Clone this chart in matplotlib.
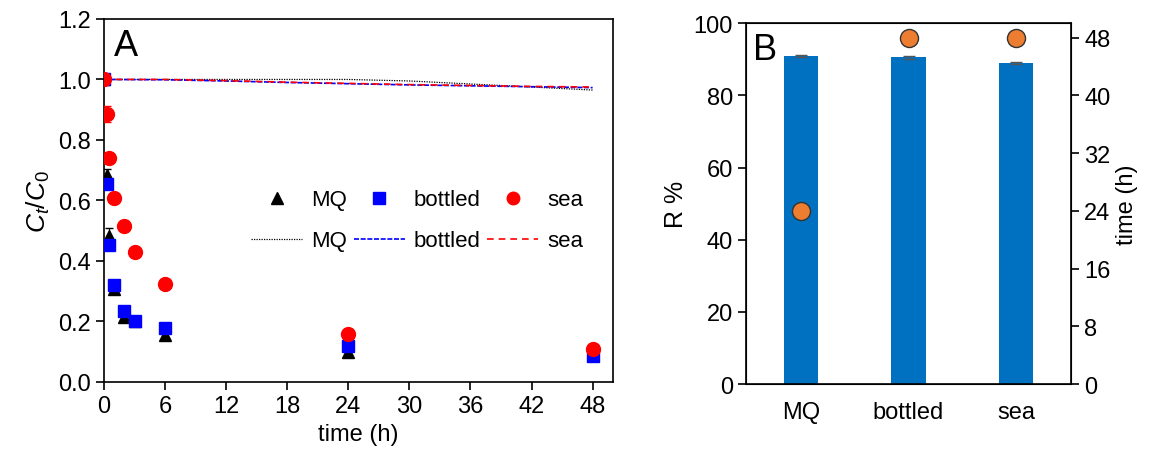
import matplotlib
matplotlib.use("Agg")
import matplotlib.pyplot as plt
from matplotlib.lines import Line2D
import numpy as np

plt.rcParams['font.family'] = ['Liberation Sans', 'DejaVu Sans']
plt.rcParams['mathtext.fontset'] = 'custom'
plt.rcParams['mathtext.it'] = 'Liberation Sans:italic'
plt.rcParams['mathtext.rm'] = 'Liberation Sans'

# panel A: puntos medidos
t = [0, 0.25, 0.5, 1, 2, 3, 6, 24, 48]
mq = [1.0, 0.683, 0.484, 0.307, 0.215, 0.200, 0.155, 0.100, 0.088]
mq_err = [0.0, 0.02, 0.025, 0.01, 0.01, 0.01, 0.01, 0.01, 0.005]
bottled = [1.0, 0.653, 0.454, 0.322, 0.235, 0.202, 0.180, 0.120, 0.086]
bottled_err = [0.0, 0.01, 0.01, 0.01, 0.01, 0.01, 0.01, 0.01, 0.005]
sea = [1.0, 0.886, 0.741, 0.607, 0.517, 0.431, 0.324, 0.157, 0.110]
sea_err = [0.0, 0.026, 0.01, 0.01, 0.01, 0.01, 0.01, 0.01, 0.005]

# panel A: controles (lineas)
t_ctrl = [0, 6, 12, 18, 24, 30, 36, 42, 48]
mq_ctrl = [1.0, 1.0, 1.0, 1.0, 1.0, 0.995, 0.985, 0.975, 0.965]
bottled_ctrl = [1.0, 0.999, 0.995, 0.990, 0.986, 0.982, 0.979, 0.976, 0.973]
sea_ctrl = [1.0, 1.0, 0.996, 0.991, 0.987, 0.983, 0.980, 0.977, 0.975]

# panel B
categorias = ["MQ", "bottled", "sea"]
R = [90.9, 90.5, 88.9]
R_err = [0.3, 0.3, 0.3]
tiempo = [24, 48, 48]

fs = 17
fig = plt.figure(figsize=(11.61, 4.64), dpi=100)

axA = fig.add_axes([0.0896, 0.1746, 0.4384, 0.7824])
l_mq, = axA.plot(t_ctrl, mq_ctrl, color="black", linestyle=(0, (1, 1)), linewidth=0.9)
l_bo, = axA.plot(t_ctrl, bottled_ctrl, color="blue", linestyle=(0, (3, 1)), linewidth=1.2)
l_se, = axA.plot(t_ctrl, sea_ctrl, color="red", linestyle=(0, (4, 3)), linewidth=1.2)
axA.errorbar(t, mq, yerr=mq_err, fmt="^", color="black", markersize=8, capsize=3, elinewidth=0.8, zorder=3)
axA.errorbar(t, bottled, yerr=bottled_err, fmt="s", color="blue", markersize=8, capsize=3, elinewidth=0.8, zorder=4)
axA.errorbar(t, sea, yerr=sea_err, fmt="o", color="red", markersize=10, capsize=3, elinewidth=0.8, zorder=5)
# handles de la leyenda (solo marcador)
m_mq = Line2D([], [], marker="^", color="black", linestyle="none", markersize=8)
m_bo = Line2D([], [], marker="s", color="blue", linestyle="none", markersize=8)
m_se = Line2D([], [], marker="o", color="red", linestyle="none", markersize=9)
handles = [m_mq, l_mq, m_bo, l_bo, m_se, l_se]
labels = ["MQ", "MQ", "bottled", "bottled", "sea", "sea"]
axA.legend(handles, labels, ncol=3, frameon=False, fontsize=fs - 1,
           loc="center left", bbox_to_anchor=(0.25, 0.445), handlelength=2.3,
           columnspacing=0.3, handletextpad=0.4, labelspacing=0.9)
axA.set_xlim(0, 50)
axA.set_ylim(0, 1.2)
axA.set_xticks(np.arange(0, 49, 6))
axA.set_yticks(np.arange(0, 1.21, 0.2))
axA.set_yticklabels([f"{v:.1f}" for v in np.arange(0, 1.21, 0.2)])
axA.tick_params(labelsize=fs, direction="out", length=6, width=1.2)
for s in axA.spines.values():
    s.set_linewidth(1.2)
axA.set_xlabel("time (h)", fontsize=fs)
axA.set_ylabel("$C_t/C_0$", fontsize=fs + 2)
axA.text(0.02, 0.975, "A", transform=axA.transAxes, fontsize=26, va="top", ha="left")

axB = fig.add_axes([0.6426, 0.170, 0.2799, 0.778])
x = np.arange(len(categorias))
axB.bar(x, R, width=0.32, color="#0070C0", yerr=R_err, capsize=4,
        error_kw=dict(ecolor="#555555", elinewidth=1))
axB.set_xlim(-0.51, 2.51)
axB.set_ylim(0, 100)
axB.set_xticks(x)
axB.set_xticklabels(categorias)
axB.set_ylabel("R %", fontsize=fs + 1)
axB.tick_params(axis="y", labelsize=fs, direction="out", length=6, width=1.2)
axB.tick_params(axis="x", labelsize=fs, length=0, pad=12)
for s in axB.spines.values():
    s.set_linewidth(1.2)
axB.text(0.02, 0.975, "B", transform=axB.transAxes, fontsize=26, va="top", ha="left")

axB2 = axB.twinx()
axB2.plot(x, tiempo, "o", color="#ED7D31", markeredgecolor="#333333", markersize=13, markeredgewidth=1)
axB2.set_ylim(0, 50)
axB2.set_yticks(np.arange(0, 49, 8))
axB2.set_ylabel("time (h)", fontsize=fs)
axB2.tick_params(axis="y", labelsize=fs, direction="out", length=6, width=1.2)

fig.savefig("out.png", dpi=100)
